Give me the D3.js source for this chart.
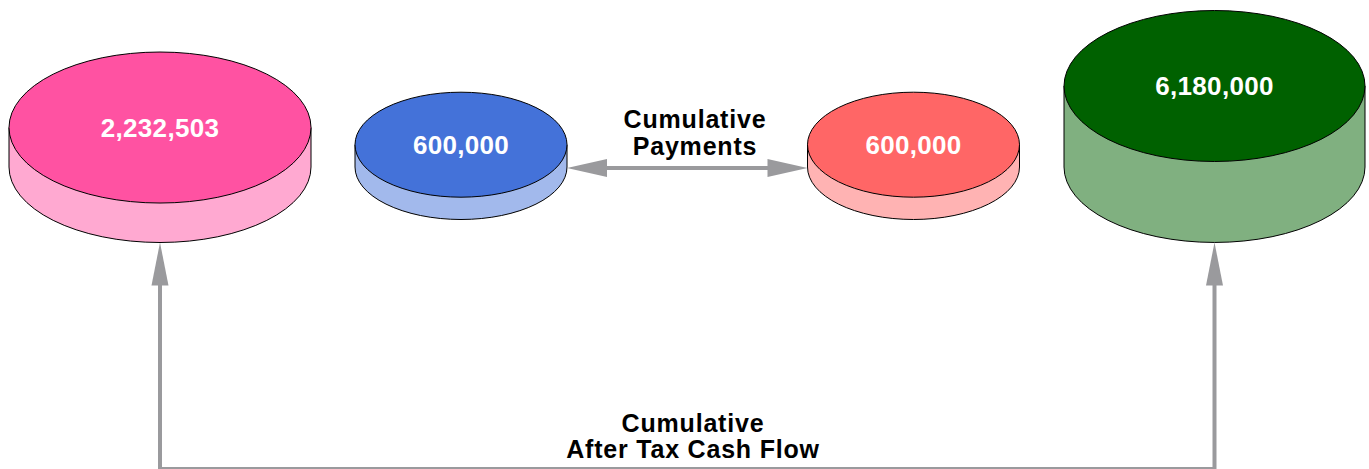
<!DOCTYPE html>
<html>
<head>
<meta charset="utf-8">
<script src="https://cdn.jsdelivr.net/npm/d3@7/dist/d3.min.js"></script>
<style>
  html, body { margin: 0; padding: 0; background: #fff; }
  svg { display: block; }
  text { font-family: "Liberation Sans", Arial, sans-serif; font-weight: bold; }
</style>
</head>
<body>
<svg id="chart" width="1369" height="469"></svg>
<script>
// Flow items and their amounts
const categories = ["Cumulative After Tax Cash Flow (start)", "Payments (start)", "Payments (end)", "Cumulative After Tax Cash Flow (end)"];
const values = [2232503, 600000, 600000, 6180000];
const labels = ["2,232,503", "600,000", "600,000", "6,180,000"];
const topColors = ["#ff52a2", "#4472d9", "#ff6666", "#006100"];
const paymentsCaption = ["Cumulative", "Payments"];
const cashFlowCaption = ["Cumulative", "After Tax Cash Flow"];

// Layout: horizontal placement and disc radii
const xPos = [160, 461, 913.5, 1214.5];
const radiusX = [151, 106, 106, 150.5];
const radiusY = [75.5, 52.5, 52.5, 75.5];

const W = 1369, H = 469;
const baseY = 167;               // centre line of every cylinder's bottom face
const svg = d3.select("#chart");

const x = d3.scaleOrdinal().domain(categories).range(xPos);
// cylinder height grows with the amount
const depth = d3.scaleLinear().domain([0, 6180000]).range([16, 81]);

const nodes = categories.map((c, i) => {
  const d = depth(values[i]);
  return {
    cat: c, value: values[i], label: labels[i],
    cx: x(c), rx: radiusX[i], ry: radiusY[i],
    cy: baseY - d, d: d,
    top: topColors[i],
    side: d3.interpolateRgb(topColors[i], "#ffffff")(0.5)
  };
});

const arrowGray = "#9a9a9d";

// connectors drawn first so discs sit over the line ends
function arrowHead(tipX, tipY, dirX, dirY, len, half) {
  const bx = tipX - dirX * len, by = tipY - dirY * len;
  const px = -dirY, py = dirX;
  return `M${tipX},${tipY}L${bx + px * half},${by + py * half}L${bx - px * half},${by - py * half}Z`;
}

const g = svg.append("g");

// Cumulative after-tax cash flow: from the last disc back to the first
const a = nodes[0], b = nodes[3];
const aTip = baseY + a.ry, bTip = baseY + b.ry;
const lowY = 469;
g.append("path")
  .attr("d", `M${a.cx},${aTip + 30}L${a.cx},${lowY}L${b.cx},${lowY}L${b.cx},${bTip + 30}`)
  .attr("fill", "none").attr("stroke", arrowGray).attr("stroke-width", 4);
g.append("path").attr("d", arrowHead(a.cx, aTip, 0, -1, 43, 8.5)).attr("fill", arrowGray);
g.append("path").attr("d", arrowHead(b.cx, bTip, 0, -1, 43, 8.5)).attr("fill", arrowGray);

// Cylinders
const cyl = svg.selectAll("g.cyl").data(nodes).join("g").attr("class", "cyl");
cyl.append("path")
  .attr("d", n => `M${n.cx - n.rx},${n.cy}L${n.cx - n.rx},${n.cy + n.d}` +
    `A${n.rx},${n.ry} 0 0 0 ${n.cx + n.rx},${n.cy + n.d}L${n.cx + n.rx},${n.cy}Z`)
  .attr("fill", n => n.side).attr("stroke", "#000").attr("stroke-width", 1);
cyl.append("ellipse")
  .attr("cx", n => n.cx).attr("cy", n => n.cy)
  .attr("rx", n => n.rx).attr("ry", n => n.ry)
  .attr("fill", n => n.top).attr("stroke", "#000").attr("stroke-width", 1);
cyl.append("text")
  .attr("x", n => n.cx).attr("y", n => n.cy)
  .attr("text-anchor", "middle").attr("dy", "0.36em")
  .attr("fill", "#fff").attr("font-size", 26).attr("letter-spacing", 0.3)
  .text(n => n.label);

// Cumulative payments: double arrow between the two payment discs
const p = nodes[1], q = nodes[2];
const pX = p.cx + p.rx, qX = q.cx - q.rx, py = baseY + 1;
svg.append("path")
  .attr("d", `M${pX + 30},${py}L${qX - 30},${py}`)
  .attr("stroke", arrowGray).attr("stroke-width", 4);
svg.append("path").attr("d", arrowHead(pX, py, -1, 0, 40, 9)).attr("fill", arrowGray);
svg.append("path").attr("d", arrowHead(qX, py, 1, 0, 40, 9)).attr("fill", arrowGray);

// Captions
svg.append("text")
  .attr("x", 695).attr("y", 128).attr("text-anchor", "middle")
  .attr("font-size", 25).attr("letter-spacing", 0.8).attr("fill", "#000")
  .selectAll("tspan").data(paymentsCaption).join("tspan")
  .attr("x", 695).attr("dy", (d, i) => i ? 27 : 0).text(d => d);

svg.append("text")
  .attr("x", 693).attr("y", 432).attr("text-anchor", "middle")
  .attr("font-size", 25).attr("letter-spacing", 0.8).attr("fill", "#000")
  .selectAll("tspan").data(cashFlowCaption).join("tspan")
  .attr("x", 693).attr("dy", (d, i) => i ? 26 : 0).text(d => d);
</script>
</body>
</html>
